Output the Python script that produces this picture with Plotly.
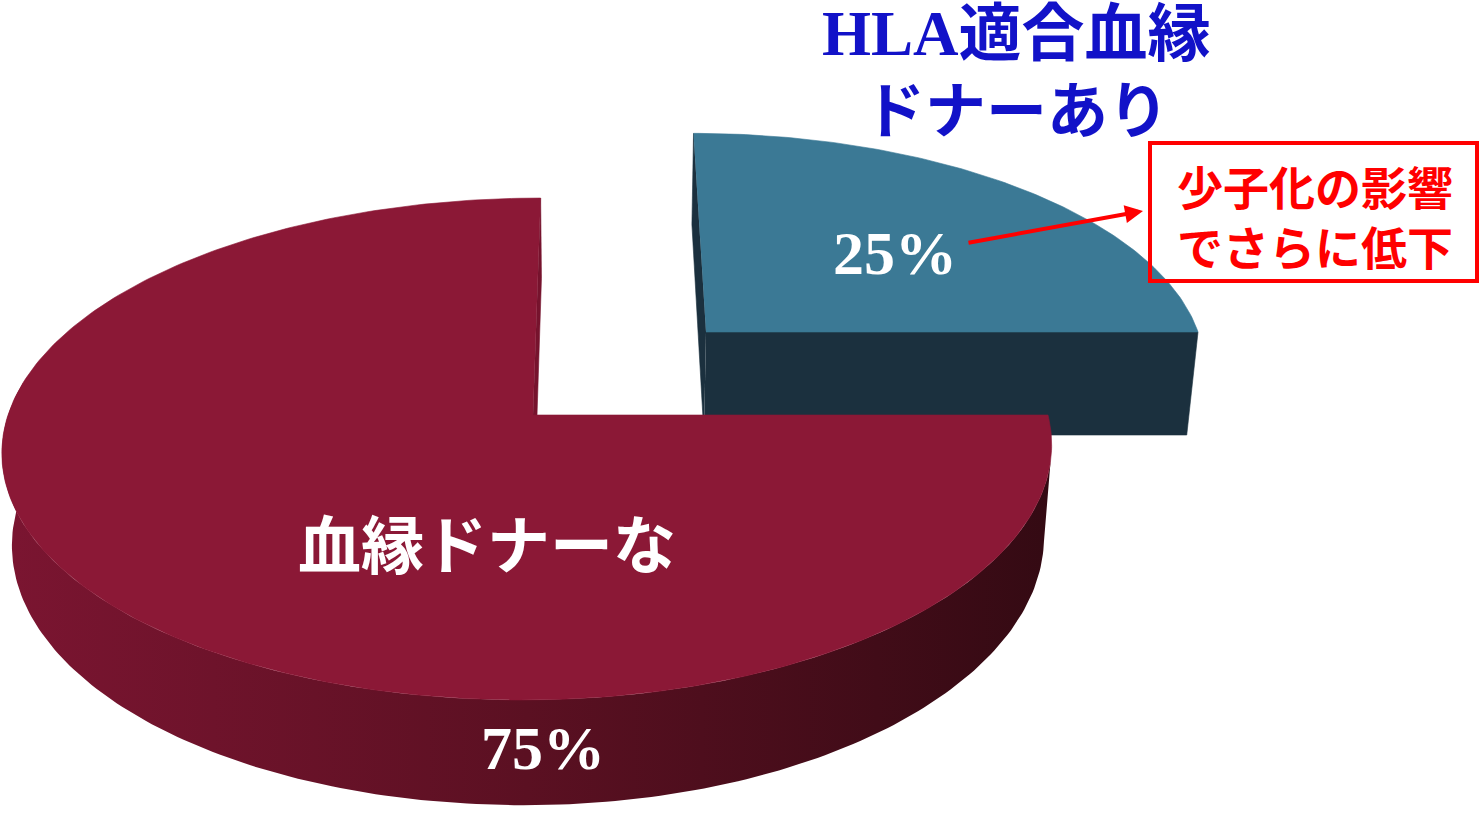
import numpy as np
import plotly.graph_objects as go

# Share of patients by availability of an HLA-matched related donor
labels = ["HLA適合血縁ドナーあり", "血縁ドナーなし"]
values = [25, 75]
title_lines = ["HLA適合血縁", "ドナーあり"]
inner_label = "血縁ドナーな"
note_lines = ["少子化の影響", "でさらに低下"]

top_colors = ["#3b7995", "#8b1836"]
front_color = "#1b303e"
cut_colors = ["#1b303e", "#76132d"]

# Perspective set-up for the tilted 3-D pie (screen pixels)
VPX = 597.0      # horizontal vanishing point
HV = 5500.0      # convergence of the vertical edges
geom = [
    dict(cx=706, cy=332, rx_r=492, rx_l=492, ycen=1735, q=0.1293, depth=103),
    dict(cx=533, cy=415, rx_r=515, rx_l=525, ycen=1818, q=0.1355, depth=91),
]


def project(g, theta, r=1.0, h=0.0):
    t = np.radians(np.asarray(theta, dtype=float))
    s = 1.0 / (1.0 + g["q"] * r * np.sin(t))
    rx = np.where(np.cos(t) >= 0, g["rx_r"], g["rx_l"])
    x = VPX + (g["cx"] - VPX) * s + r * rx * np.cos(t) * s
    y = g["cy"] + g["ycen"] * (s - 1.0) + h * s
    x = VPX + (x - VPX) * (1.0 - h * s / HV)
    return np.atleast_1d(x), np.atleast_1d(y)


def polygon(xs, ys, color=None, gradient=None):
    kw = dict(x=list(xs), y=list(ys), mode="lines", fill="toself",
              hoverinfo="skip", showlegend=False)
    if gradient is not None:
        kw["line"] = dict(width=0)
        kw["fillgradient"] = gradient
    else:
        kw["line"] = dict(width=0.6, color=color)
        kw["fillcolor"] = color
    return go.Scatter(**kw)


# slice angles: start at 12 o'clock, run clockwise
total = sum(values)
bounds = []
cum = 0
for v in values:
    a0 = 90 - 360 * cum / total
    cum += v
    a1 = 90 - 360 * cum / total
    bounds.append((a0, a1))

fig = go.Figure()

# ---- 25% slice (pulled out, drawn first as it sits behind) ----
g = geom[0]
a0, a1 = bounds[0]
T = g["depth"]
ax_t, ay_t = project(g, 0, r=0)
ax_b, ay_b = project(g, 0, r=0, h=T)
# left cut face (thin sliver)
rx_t, ry_t = project(g, a0)
rx_b, ry_b = project(g, a0, h=T)
fig.add_trace(polygon([ax_t[0], rx_t[0], rx_b[0], ax_b[0]],
                      [ay_t[0], ry_t[0], ry_b[0], ay_b[0]], cut_colors[0]))
# front cut face
fx_t, fy_t = project(g, a1)
fx_b, fy_b = project(g, a1, h=T)
fig.add_trace(polygon([ax_t[0], fx_t[0], fx_b[0], ax_b[0]],
                      [ay_t[0], fy_t[0], fy_b[0], ay_b[0]], front_color))
# top face
th = np.linspace(a1, a0, 120)
tx, ty = project(g, th)
fig.add_trace(polygon(np.r_[ax_t, tx], np.r_[ay_t, ty], top_colors[0]))

# ---- 75% slice ----
g = geom[1]
a0, a1 = bounds[1]
T = g["depth"]
sil = np.degrees(np.arcsin(g["q"]))
th_side = np.linspace(a0 - sil, -180 - sil, 200)
sx_t, sy_t = project(g, th_side)
sx_b, sy_b = project(g, th_side[::-1], h=T)
fig.add_trace(polygon(np.r_[sx_t, sx_b], np.r_[sy_t, sy_b], gradient=dict(
    type="horizontal",
    colorscale=[[0, "#7b1531"], [0.5, "#5b1022"], [1, "#340a13"]])))
# cut face at 12 o'clock (visible sliver)
ax_t, ay_t = project(g, 0, r=0)
ax_b, ay_b = project(g, 0, r=0, h=T)
ex_t, ey_t = project(g, a1)
ex_b, ey_b = project(g, a1, h=T)
fig.add_trace(polygon([ax_t[0], ex_t[0], ex_b[0], ax_b[0]],
                      [ay_t[0], ey_t[0], ey_b[0], ay_b[0]], cut_colors[1]))
# top face
th = np.linspace(a0, a1, 300)
tx, ty = project(g, th)
fig.add_trace(polygon(np.r_[ax_t, tx], np.r_[ay_t, ty], top_colors[1]))

serif = "Liberation Serif"
serif_cjk = "Liberation Serif, Noto Sans CJK JP"
sans_cjk = "Noto Sans CJK JP"

annotations = [
    dict(x=1016, y=34, text=title_lines[0],
         font=dict(family=serif_cjk, size=63, color="#1212c8", weight="bold")),
    dict(x=1016, y=106, text=title_lines[1],
         font=dict(family=sans_cjk, size=61, color="#1212c8", weight="bold")),
    dict(x=895, y=253, text=f"{values[0]}%",
         font=dict(family=serif, size=62, color="white", weight="bold")),
    dict(x=543, y=748, text=f"{values[1]}%",
         font=dict(family=serif, size=62, color="white", weight="bold")),
    dict(x=487, y=540, text=inner_label,
         font=dict(family=sans_cjk, size=63, color="white", weight="bold")),
    dict(x=1315, y=215, text="<br>".join(note_lines),
         font=dict(family=sans_cjk, size=46, color="#ff0000", weight="bold")),
]
for a in annotations:
    a.update(xref="x", yref="y", showarrow=False, xanchor="center", yanchor="middle")

# callout arrow
annotations.append(dict(
    x=1143, y=211, ax=967, ay=243, xref="x", yref="y", axref="x", ayref="y",
    text="", showarrow=True, arrowhead=2, arrowsize=0.9, arrowwidth=4,
    arrowcolor="#ff0000"))

fig.update_layout(
    width=1480, height=822,
    margin=dict(l=0, r=0, t=0, b=0),
    paper_bgcolor="white", plot_bgcolor="white",
    xaxis=dict(range=[0, 1480], visible=False, fixedrange=True),
    yaxis=dict(range=[822, 0], visible=False, fixedrange=True),
    annotations=annotations,
    shapes=[dict(type="rect", xref="x", yref="y", x0=1150, x1=1477, y0=143, y1=281,
                 line=dict(color="#ff0000", width=4), fillcolor="rgba(0,0,0,0)",
                 layer="above")],
)

fig.write_html("out.html")
